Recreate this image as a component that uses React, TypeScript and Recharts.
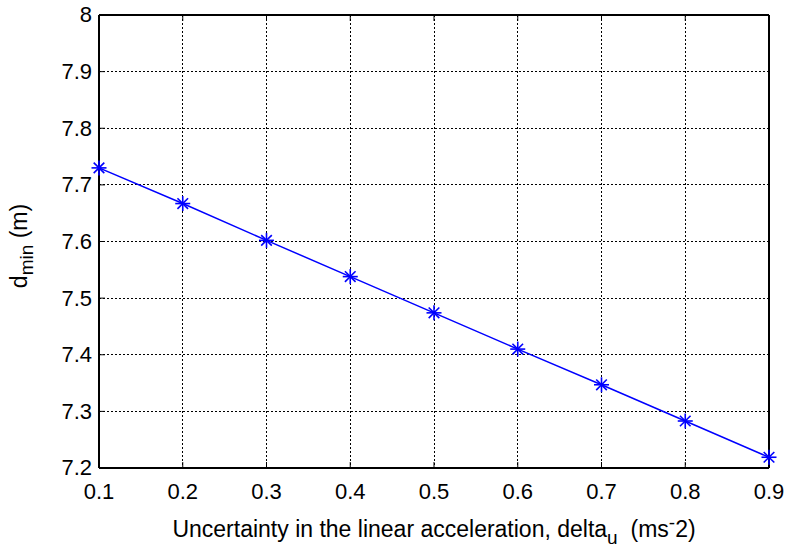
import React from "react";
import { LineChart, Line, XAxis, YAxis, CartesianGrid } from "recharts";

const deltaU = [0.1, 0.2, 0.3, 0.4, 0.5, 0.6, 0.7, 0.8, 0.9];
const dMin = [7.730, 7.667, 7.602, 7.538, 7.474, 7.410, 7.347, 7.283, 7.219];
const xTicks = [0.1, 0.2, 0.3, 0.4, 0.5, 0.6, 0.7, 0.8, 0.9];
const yTicks = [7.2, 7.3, 7.4, 7.5, 7.6, 7.7, 7.8, 7.9, 8];

const data = deltaU.map((x, i) => ({ x, y: dMin[i] }));

const FONT = "'Liberation Sans', Arial, Helvetica, sans-serif";
const FS = 22;
const LFS = 23;

const XTick = (props: any) => {
  const { x, y, payload } = props;
  return (
    <text x={x} y={y} dy="0.71em" textAnchor="middle" fontFamily={FONT} fontSize={FS} fill="#000">
      {String(payload.value)}
    </text>
  );
};

const YTick = (props: any) => {
  const { x, y, payload } = props;
  return (
    <text x={x} y={y} dy="0.34em" textAnchor="end" fontFamily={FONT} fontSize={FS} fill="#000">
      {String(payload.value)}
    </text>
  );
};

const NoTick = () => <g />;

const Star = (props: any) => {
  const { cx, cy } = props;
  if (cx == null || cy == null) return <g />;
  const r = 7.5;
  const d = 5.3;
  return (
    <g stroke="#0000ff" strokeWidth={1.6}>
      <line x1={cx - r} y1={cy} x2={cx + r} y2={cy} />
      <line x1={cx} y1={cy - r} x2={cx} y2={cy + r} />
      <line x1={cx - d} y1={cy - d} x2={cx + d} y2={cy + d} />
      <line x1={cx - d} y1={cy + d} x2={cx + d} y2={cy - d} />
    </g>
  );
};

const axisLine = { stroke: "#000", strokeWidth: 2 };
const tickLine = { stroke: "#000", strokeWidth: 1 };

export default function App() {
  return (
    <div style={{ position: "absolute", left: 0, top: 0, width: 787, height: 549, background: "#fff" }}>
      <LineChart width={787} height={549} data={data} margin={{ top: 0, right: 0, bottom: 0, left: 0 }}>
        <CartesianGrid
          stroke="#000"
          strokeDasharray="2 2"
          strokeWidth={1}
          shapeRendering="crispEdges"
          xAxisId="bottom"
          yAxisId="left"
        />
        <XAxis
          xAxisId="bottom"
          dataKey="x"
          type="number"
          domain={[0.1, 0.9]}
          ticks={xTicks}
          orientation="bottom"
          height={81}
          tick={<XTick />}
          tickSize={-6}
          tickMargin={21}
          axisLine={axisLine}
          tickLine={tickLine}
          interval={0}
        />
        <XAxis
          xAxisId="top"
          dataKey="x"
          type="number"
          domain={[0.1, 0.9]}
          ticks={xTicks}
          orientation="top"
          height={15}
          tick={<NoTick />}
          tickSize={-6}
          axisLine={axisLine}
          tickLine={tickLine}
          interval={0}
        />
        <YAxis
          yAxisId="left"
          type="number"
          domain={[7.2, 8]}
          ticks={yTicks}
          orientation="left"
          width={99}
          tick={<YTick />}
          tickSize={-6}
          tickMargin={13}
          axisLine={axisLine}
          tickLine={tickLine}
          interval={0}
        />
        <YAxis
          yAxisId="right"
          type="number"
          domain={[7.2, 8]}
          ticks={yTicks}
          orientation="right"
          width={18}
          tick={<NoTick />}
          tickSize={-6}
          axisLine={axisLine}
          tickLine={tickLine}
          interval={0}
        />
        <Line
          xAxisId="bottom"
          yAxisId="left"
          dataKey="y"
          type="linear"
          stroke="#0000ff"
          strokeWidth={1.5}
          dot={<Star />}
          activeDot={false}
          isAnimationActive={false}
        />
        <text
          x={434}
          y={537}
          textAnchor="middle"
          fontFamily={FONT}
          fontSize={LFS}
          fill="#000"
          style={{ whiteSpace: "pre" }}
        >
          {"Uncertainty in the linear acceleration, delta"}
          <tspan fontSize={19} dy={7}>u</tspan>
          <tspan dy={-7}>{"  (ms"}</tspan>
          <tspan fontSize={19} dy={-8}>-</tspan>
          <tspan dy={8}>2)</tspan>
        </text>
        <text
          transform="translate(27, 246) rotate(-90)"
          textAnchor="middle"
          fontFamily={FONT}
          fontSize={LFS}
          fill="#000"
          style={{ whiteSpace: "pre" }}
        >
          d
          <tspan fontSize={19} dy={6}>min</tspan>
          <tspan dy={-6}> (m)</tspan>
        </text>
      </LineChart>
    </div>
  );
}
